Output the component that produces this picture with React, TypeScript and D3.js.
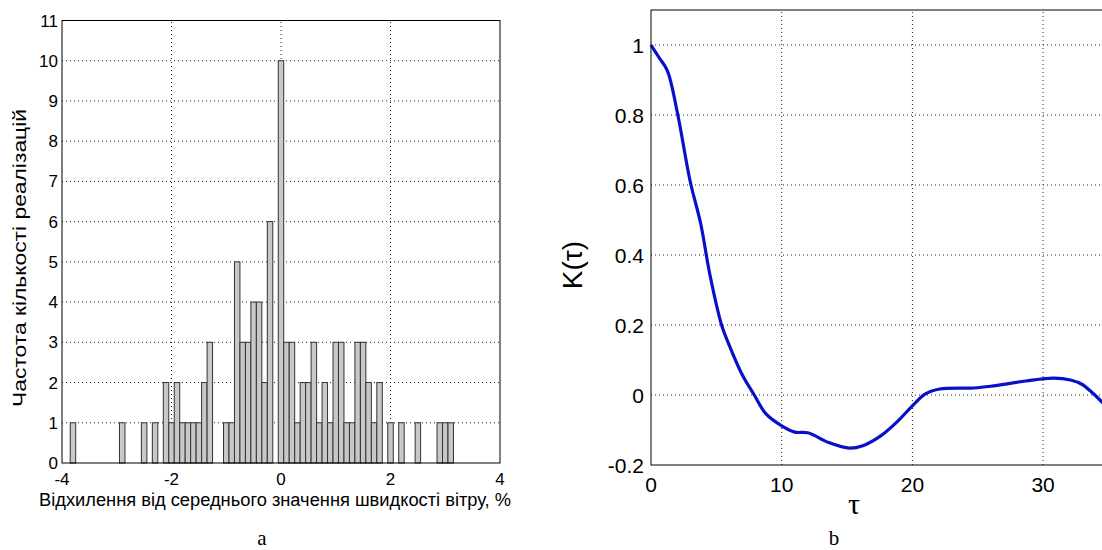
import { useRef, useEffect } from "react";
import * as d3 from "d3";

// histogram (a): bin centres (%) and counts, only non-empty bins
const binCenters = [-3.8, -2.9, -2.5, -2.3, -2.1, -2.0, -1.9, -1.8, -1.7, -1.6, -1.5, -1.4, -1.3,
  -1.0, -0.9, -0.8, -0.7, -0.6, -0.5, -0.4, -0.3, -0.2, 0.0, 0.1, 0.2, 0.3, 0.4, 0.5, 0.6,
  0.7, 0.8, 0.9, 1.0, 1.1, 1.2, 1.3, 1.4, 1.5, 1.6, 1.7, 1.8, 2.0, 2.2, 2.5, 2.9, 3.0, 3.1];
const binCounts = [1, 1, 1, 1, 2, 1, 2, 1, 1, 1, 1, 2, 3,
  1, 1, 5, 3, 3, 4, 4, 2, 6, 10, 3, 3, 1, 2, 2, 3,
  1, 2, 1, 3, 3, 1, 1, 3, 3, 2, 1, 2, 1, 1, 1, 1, 1, 1];
const binWidth = 0.1;
const histXTicks = [-4, -2, 0, 2, 4];
const histYTicks = [0, 1, 2, 3, 4, 5, 6, 7, 8, 9, 10, 11];

// correlation function (b)
const tau = [0, 0.6, 1.25, 2.0, 3.0, 3.8, 4.5, 5.4, 5.9, 6.95, 7.9, 8.8, 10.0, 11.0, 12.0,
  13.6, 15.2, 16.2, 17.6, 18.9, 20.0, 21.0, 22.1, 24.7, 26.0, 28.7, 30.8, 32.1, 33.0, 33.6, 34.5, 35.5];
const kTau = [1.0, 0.965, 0.927, 0.81, 0.61, 0.49, 0.345, 0.2, 0.15, 0.06, 0.0, -0.054, -0.088, -0.106, -0.108,
  -0.136, -0.152, -0.145, -0.116, -0.074, -0.031, 0.003, 0.017, 0.02, 0.025, 0.04, 0.048, 0.043, 0.03, 0.012, -0.02, -0.06];
const corrXGrid = [10, 20, 30, 40];
const corrXTicks = [0, 10, 20, 30]; // 40 falls outside the cropped picture
const corrYTicks = [-0.2, 0, 0.2, 0.4, 0.6, 0.8, 1];

const sans = "Liberation Sans, Arial, sans-serif";
const serif = "Liberation Serif, Times New Roman, serif";

function App() {
  const ref = useRef(null);

  useEffect(() => {
    const svg = d3.select(ref.current);
    svg.selectAll("*").remove();

    // ---------- (a) histogram ----------
    const x = d3.scaleLinear().domain([-4, 4]).range([62, 500]);
    const y = d3.scaleLinear().domain([0, 11]).range([463, 20.5]);
    const g = svg.append("g");

    g.selectAll(".hgrid").data(histYTicks.slice(1, -1)).enter().append("line")
      .attr("x1", x(-4)).attr("x2", x(4))
      .attr("y1", d => y(d)).attr("y2", d => y(d))
      .attr("stroke", "#222").attr("stroke-dasharray", "1 3");
    g.selectAll(".vgrid").data(histXTicks.slice(1, -1)).enter().append("line")
      .attr("x1", d => x(d)).attr("x2", d => x(d))
      .attr("y1", y(0)).attr("y2", y(11))
      .attr("stroke", "#222").attr("stroke-dasharray", "1 3");

    g.selectAll(".bar").data(binCenters).enter().append("rect")
      .attr("x", d => x(d - binWidth / 2))
      .attr("width", x(binWidth) - x(0))
      .attr("y", (d, i) => y(binCounts[i]))
      .attr("height", (d, i) => y(0) - y(binCounts[i]))
      .attr("fill", "#c8c8c8").attr("stroke", "#333").attr("stroke-width", 1);

    g.append("rect")
      .attr("x", x(-4)).attr("y", y(11))
      .attr("width", x(4) - x(-4)).attr("height", y(0) - y(11))
      .attr("fill", "none").attr("stroke", "#000");

    g.selectAll(".ylab").data(histYTicks).enter().append("text")
      .attr("x", 58).attr("y", d => y(d) + 6)
      .attr("text-anchor", "end").attr("font-family", sans).attr("font-size", 17)
      .text(d => d);
    g.selectAll(".xlab").data(histXTicks).enter().append("text")
      .attr("x", d => x(d)).attr("y", 485)
      .attr("text-anchor", "middle").attr("font-family", sans).attr("font-size", 17)
      .text(d => d);

    g.append("text")
      .attr("transform", "translate(26,258) rotate(-90)")
      .attr("text-anchor", "middle").attr("font-family", sans).attr("font-size", 19)
      .attr("textLength", 298).attr("lengthAdjust", "spacingAndGlyphs")
      .text("Частота кількості реалізацій");
    g.append("text")
      .attr("x", 275).attr("y", 506)
      .attr("text-anchor", "middle").attr("font-family", sans).attr("font-size", 18)
      .attr("textLength", 472).attr("lengthAdjust", "spacingAndGlyphs")
      .text("Відхилення від середнього значення швидкості вітру, %");
    g.append("text")
      .attr("x", 262).attr("y", 545)
      .attr("text-anchor", "middle").attr("font-family", serif).attr("font-size", 21)
      .text("a");

    // ---------- (b) correlation function ----------
    const x2 = d3.scaleLinear().domain([0, 40]).range([651, 1173.8]);
    const y2 = d3.scaleLinear().domain([-0.2, 1.1]).range([465, 10]);
    const h = svg.append("g");

    h.selectAll(".hgrid").data(corrYTicks.slice(1)).enter().append("line")
      .attr("x1", x2(0)).attr("x2", x2(40))
      .attr("y1", d => y2(d)).attr("y2", d => y2(d))
      .attr("stroke", "#222").attr("stroke-dasharray", "1 3");
    h.selectAll(".vgrid").data(corrXGrid).enter().append("line")
      .attr("x1", d => x2(d)).attr("x2", d => x2(d))
      .attr("y1", y2(-0.2)).attr("y2", y2(1.1))
      .attr("stroke", "#222").attr("stroke-dasharray", "1 3");

    const line = d3.line()
      .x((d, i) => x2(tau[i]))
      .y(d => y2(d))
      .curve(d3.curveCatmullRom);
    h.append("path")
      .attr("d", line(kTau))
      .attr("fill", "none").attr("stroke", "#0a10c8").attr("stroke-width", 3.2);

    h.append("rect")
      .attr("x", x2(0)).attr("y", y2(1.1))
      .attr("width", x2(40) - x2(0)).attr("height", y2(-0.2) - y2(1.1))
      .attr("fill", "none").attr("stroke", "#000");

    h.selectAll(".ylab").data(corrYTicks).enter().append("text")
      .attr("x", 644).attr("y", d => y2(d) + 8)
      .attr("text-anchor", "end").attr("font-family", sans).attr("font-size", 21)
      .text(d => d);
    h.selectAll(".xlab").data(corrXTicks).enter().append("text")
      .attr("x", d => x2(d)).attr("y", 492)
      .attr("text-anchor", "middle").attr("font-family", sans).attr("font-size", 21)
      .text(d => d);

    h.append("text")
      .attr("transform", "translate(582,265) rotate(-90)")
      .attr("text-anchor", "middle").attr("font-family", sans).attr("font-size", 28)
      .text("K(τ)");
    h.append("text")
      .attr("x", 854).attr("y", 514)
      .attr("text-anchor", "middle").attr("font-family", serif).attr("font-size", 30)
      .text("τ");
    h.append("text")
      .attr("x", 834).attr("y", 545)
      .attr("text-anchor", "middle").attr("font-family", serif).attr("font-size", 21)
      .text("b");
  }, []);

  return (
    <div style={{ position: "absolute", left: 0, top: 0 }}>
      <svg ref={ref} width="1102" height="550" style={{ display: "block", background: "#fff" }} />
    </div>
  );
}

export default App;
